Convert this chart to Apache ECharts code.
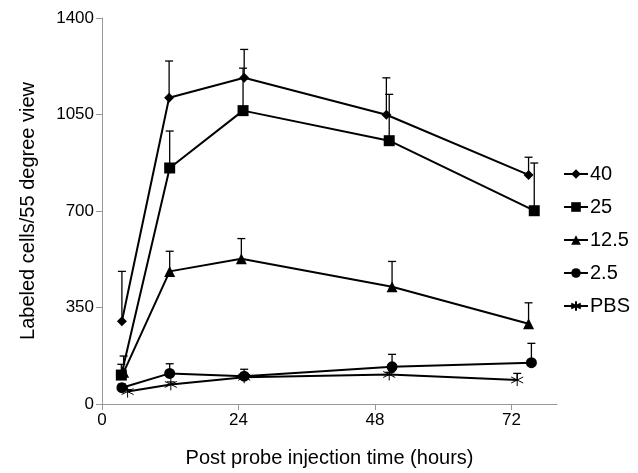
<!DOCTYPE html>
<html>
<head>
<meta charset="utf-8">
<script src="https://cdn.jsdelivr.net/npm/echarts@6/dist/echarts.min.js"></script>
<style>
  html, body { margin: 0; padding: 0; background: #fff; }
  #chart { width: 638px; height: 473px; }
</style>
</head>
<body>
<div id="chart"></div>
<script>
// doses (legend names)
const names = ['40', '25', '12.5', '2.5', 'PBS']
// x tick labels
const xTicks = [0, 24, 48, 72]
// sampling hours per series (slightly offset in the figure)
const hours = [
    [3.5, 11.8, 25, 50, 75],
    [3.4, 11.9, 24.8, 50.5, 76],
    [3.8, 11.9, 24.5, 51, 75],
    [3.5, 11.9, 25, 51, 75.5],
    [4.5, 12.1, 25, 50.5, 73]
]
// mean labeled cells
const means = [
    [300, 1111, 1183, 1049, 831],
    [105, 856, 1064, 955, 701],
    [115, 481, 527, 425, 291],
    [59, 111, 101, 135, 150],
    [45, 71, 97, 107, 87]
]
// top of error bars
const errTops = [
    [481, 1244, 1286, 1183, 895],
    [144, 990, 1218, 1123, 874],
    [174, 554, 600, 517, 367],
    [72, 146, 126, 180, 220],
    [52, 80, 110, 115, 111]
]

const asterisk = 'path://M0,-10L0,10M-8.7,-5L8.7,5M-8.7,5L8.7,-5'
const symbols = ['diamond', 'rect', 'triangle', 'circle', asterisk]
const sizes = [10, 11, 11, 11, 12]

let chart = echarts.init(document.getElementById('chart'))

let series = []
names.forEach((n, i) => {
    series.push({
        name: n,
        type: 'line',
        data: hours[i].map((h, j) => [h, means[i][j]]),
        symbol: symbols[i],
        symbolSize: sizes[i],
        lineStyle: { color: '#000', width: 2 },
        itemStyle: i === 4
            ? { color: '#000', borderColor: '#000', borderWidth: 1 }
            : { color: '#000' },
        z: 3
    })
    series.push({
        type: 'custom',
        name: n + ' err',
        data: hours[i].map((h, j) => [h, means[i][j], errTops[i][j]]),
        renderItem: function (params, api) {
            let p0 = api.coord([api.value(0), api.value(1)])
            let p1 = api.coord([api.value(0), api.value(2)])
            return {
                type: 'group',
                children: [
                    { type: 'line', shape: { x1: p0[0], y1: p0[1], x2: p1[0], y2: p1[1] }, style: { stroke: '#000', lineWidth: 1.3 } },
                    { type: 'line', shape: { x1: p1[0] - 4, y1: p1[1], x2: p1[0] + 4, y2: p1[1] }, style: { stroke: '#000', lineWidth: 1.3 } }
                ]
            }
        },
        z: 2
    })
})

let option = {
    animation: false,
    textStyle: { fontFamily: 'Liberation Sans, Arial, sans-serif' },
    grid: { left: 102, right: 81, top: 18, bottom: 68 },
    legend: {
        data: names,
        orient: 'vertical',
        left: 563,
        top: 164,
        itemWidth: 24,
        itemHeight: 12,
        itemGap: 13,
        padding: 0,
        textStyle: { fontSize: 20, color: '#000', padding: [0, 0, 0, -3] }
    },
    xAxis: {
        type: 'value',
        min: 0,
        max: 80,
        name: 'Post probe injection time (hours)',
        nameLocation: 'middle',
        nameGap: 44,
        nameTextStyle: { fontSize: 20, color: '#000' },
        axisLine: { lineStyle: { color: '#999' } },
        axisTick: { length: 6, customValues: xTicks, lineStyle: { color: '#999' } },
        axisLabel: { fontSize: 17, color: '#000', customValues: xTicks },
        splitLine: { show: false }
    },
    yAxis: {
        type: 'value',
        min: 0,
        max: 1400,
        interval: 350,
        name: 'Labeled cells/55 degree view',
        nameLocation: 'middle',
        nameGap: 64,
        nameTextStyle: { fontSize: 20, color: '#000' },
        axisLine: { show: true, lineStyle: { color: '#999' } },
        axisTick: { show: true, length: 6, lineStyle: { color: '#999' } },
        axisLabel: { fontSize: 17, color: '#000', formatter: v => String(v) },
        splitLine: { show: false }
    },
    series: series
}
chart.setOption(option)
</script>
</body>
</html>
